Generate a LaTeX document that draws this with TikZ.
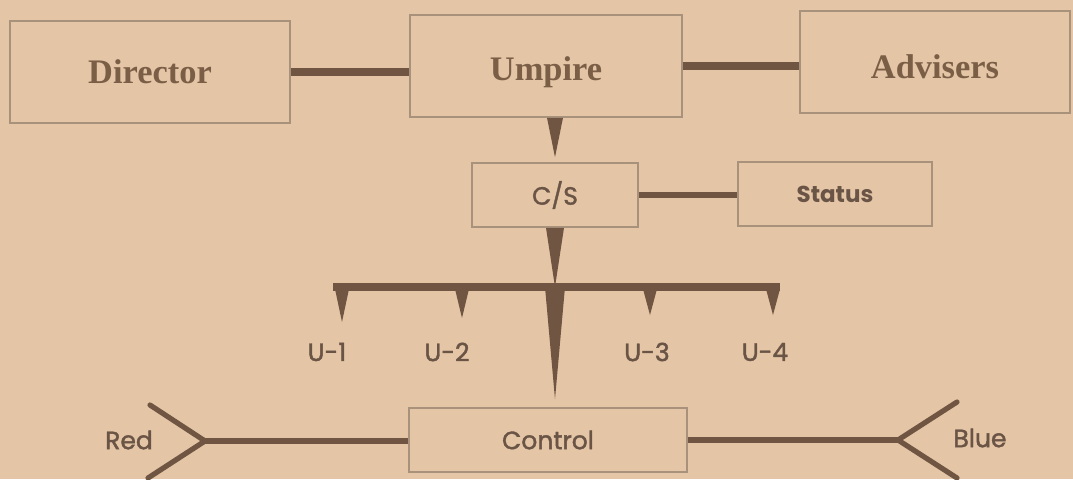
\documentclass[tikz,border=0pt]{standalone}
\usepackage{fontspec}
\setmainfont{Liberation Serif}
\newfontfamily\lowfont[FakeBold=1.6]{Poppins}
\newfontfamily\lowboldfont{Poppins}
\usepackage{tikz}
\usetikzlibrary{calc}

\definecolor{paper}{RGB}{228,197,166}
\definecolor{ink}{RGB}{112,86,66}
\definecolor{frame}{RGB}{168,146,124}
\definecolor{serifink}{RGB}{122,94,70}
\definecolor{sansink}{RGB}{106,84,70}

\begin{document}
\begin{tikzpicture}[x=0.5pt, y=-0.5pt,
    topbox/.style={draw=frame, line width=0.8pt, minimum height=51pt,
                   text height=14.7pt, text depth=0pt,
                   text=serifink, font=\fontsize{17.2}{19}\selectfont\bfseries},
    lowbox/.style={draw=frame, line width=0.8pt, minimum height=32pt,
                   text=sansink, font=\lowfont\fontsize{12.5}{14}\selectfont},
    lowlabel/.style={text=sansink, font=\lowfont\fontsize{12.5}{14}\selectfont},
    heavy/.style={draw=ink, line width=3.6pt},
    link/.style={draw=ink, line width=2.6pt},
    tail/.style={fill=ink}]
    % Background
    \fill[paper] (0,0) rectangle (1073,479);
    \useasboundingbox (0,0) rectangle (1073,479);

    % Top row
    \node[topbox, minimum width=140pt, text height=11.7pt] (director) at (150,72) {Director};
    \node[topbox, minimum width=136pt] (umpire) at (546,66) {Umpire};
    \node[topbox, minimum width=135pt, text height=16.2pt] (advisers) at (935,62) {Advisers};
    \draw[heavy] (director.east) -- (director.east -| umpire.west);
    \draw[heavy] (umpire.east) -- (umpire.east -| advisers.west);

    % Middle row
    \node[lowbox, minimum width=83pt] (cs) at (555,195) {C/S};
    \node[lowbox, minimum width=97pt, font=\lowboldfont\fontsize{11.5}{13}\selectfont\bfseries] (status) at (835,194) {Status};
    \draw[link] (cs.east) -- (cs.east -| status.west);

    % Umpire to C/S
    \coordinate (ump-foot) at (umpire.south -| cs.north);
    \fill[tail] ($(ump-foot)+(-8,0)$) -- ($(ump-foot)+(8,0)$) -- ($(cs.north)+(0,-5)$) -- cycle;

    % Distribution bar
    \coordinate (bar-l) at (333,287);
    \coordinate (bar-r) at (780,287);
    \coordinate (hub) at (cs.south |- bar-l);
    \fill[tail] ($(cs.south)+(-9,0)$) -- ($(cs.south)+(9,0)$) -- (hub) -- cycle;
    \draw[draw=ink, line width=3.6pt] (bar-l) -- (bar-r);

    % Umpire units
    \foreach \name/\ux/\tip/\lx in {u1/342/322/327, u2/462/318/447, u3/650/315/647, u4/773/315/765}{
        \fill[tail] (\ux-7,289) -- (\ux+7,289) -- (\ux,\tip) -- cycle;
        \node[lowlabel] (\name) at (\lx,352) {};
    }
    \node[lowlabel] at (u1) {U-1};
    \node[lowlabel] at (u2) {U-2};
    \node[lowlabel] at (u3) {U-3};
    \node[lowlabel] at (u4) {U-4};

    % Control
    \node[lowbox, minimum width=139pt] (control) at (548,440) {Control};
    \fill[tail] ($(hub)+(-10,0)$) -- ($(hub)+(10,0)$) -- ($(hub |- control.north)+(0,-8)$) -- cycle;

    % Red side
    \coordinate (redfork) at (205,441);
    \node[lowlabel] (red) at (129,440) {Red};
    \draw[link] (control.west |- redfork) -- (redfork);
    \draw[link, line cap=round] (redfork) -- ++(-55,-36);
    \draw[link, line cap=round] (redfork) -- ++(-57,37);

    % Blue side
    \coordinate (bluefork) at (898,440);
    \node[lowlabel] (blue) at (980,438) {Blue};
    \draw[link] (control.east |- bluefork) -- (bluefork);
    \draw[link, line cap=round] (bluefork) -- ++(59,-38);
    \draw[link, line cap=round] (bluefork) -- ++(59,38);
\end{tikzpicture}
\end{document}
